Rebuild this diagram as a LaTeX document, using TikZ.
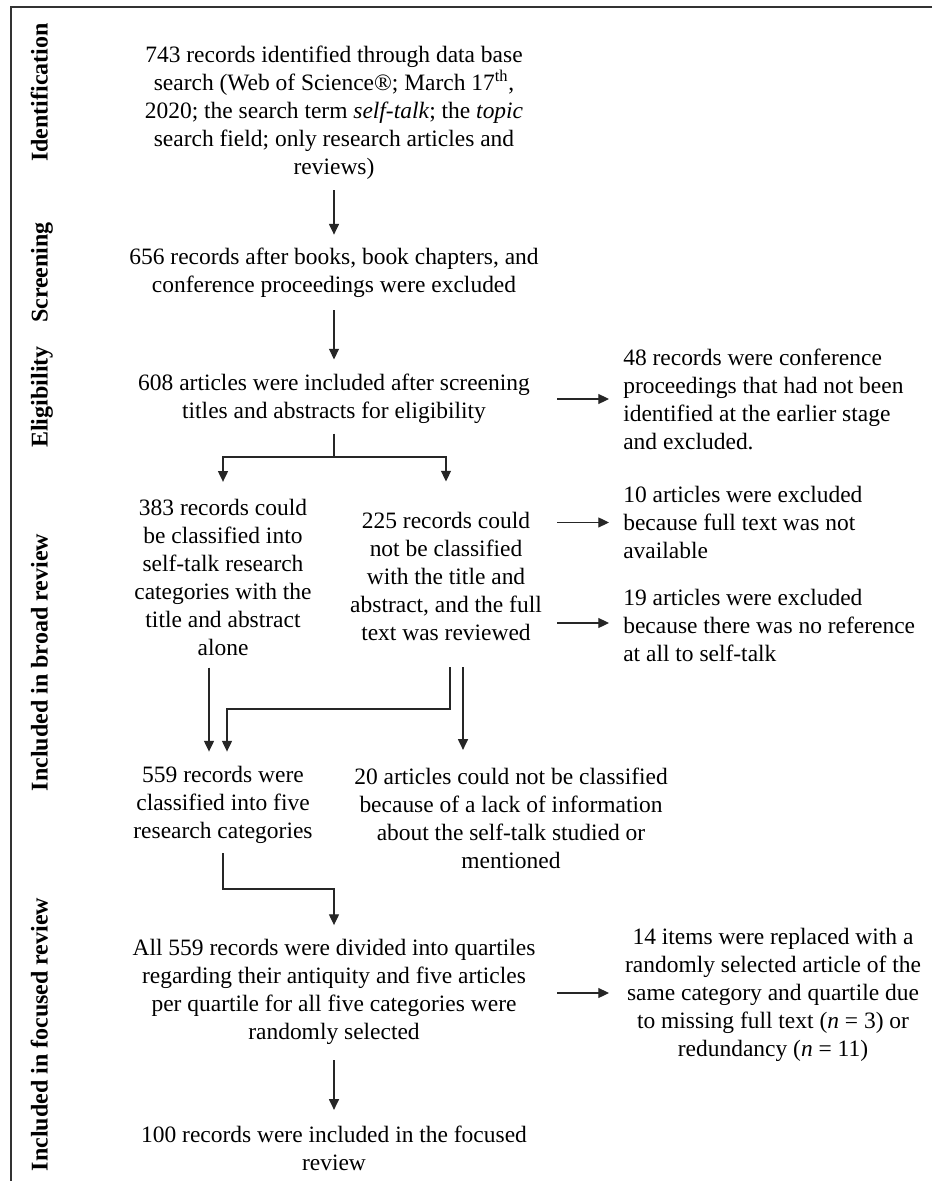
\documentclass[tikz,border=0pt]{standalone}
\usepackage{fontspec}
\setmainfont{Liberation Serif}
\usetikzlibrary{arrows.meta}
\begin{document}
\begin{tikzpicture}[x=0.75pt,y=-0.75pt,
  txt/.style={inner sep=0pt, align=center, font=\fontsize{17.6pt}{21pt}\selectfont},
  ltxt/.style={inner sep=0pt, align=left, anchor=west, font=\fontsize{17.6pt}{21pt}\selectfont},
  side/.style={inner sep=0pt, rotate=90, anchor=base, font=\fontsize{18pt}{21pt}\selectfont\bfseries},
  conn/.style={line width=0.8pt, draw=black!85},
  arr/.style={conn, -{Triangle[length=8pt,width=7.5pt]}},
  frame/.style={line width=1pt, draw=black!80}]
\useasboundingbox (0,0) rectangle (932,1181);
\fill[white] (0,0) rectangle (932,1181);
% frame
\coordinate (fTL) at (11,7);
\coordinate (fTR) at (932,7);
\coordinate (fBL) at (11,1181);
\draw[frame] (fTR) -- (fTL) -- (fBL);
% side labels
\node[side] (sIdent) at (47.5,92.5) {Identification};
\node[side] (sScreen) at (47.5,272.5) {Screening};
\node[side] (sElig) at (47.5,397) {Eligibility};
\node[side] (sBroad) at (47.5,662.5) {Included in broad review};
\node[side] (sFocus) at (47.5,1034.5) {Included in focused review};
% main nodes
\node[txt] (b1) at (334,112.5) {743 records identified through data base\\ search (Web of Science®; March 17\textsuperscript{th},\\ 2020; the search term \textit{self-talk}; the \textit{topic}\\ search field; only research articles and\\ reviews)};
\node[txt] (b2) at (334,273) {656 records after books, book chapters, and\\ conference proceedings were excluded};
\node[txt] (b3) at (334,398.5) {608 articles were included after screening\\ titles and abstracts for eligibility};
\node[ltxt] (r1) at (623,399) {48 records were conference\\ proceedings that had not been\\ identified at the earlier stage\\ and excluded.};
\node[txt] (b4) at (223,577) {383 records could\\ be classified into\\ self-talk research\\ categories with the\\ title and abstract\\ alone};
\node[txt] (b5) at (446,576) {225 records could\\ not be classified\\ with the title and\\ abstract, and the full\\ text was reviewed};
\node[ltxt] (r2) at (623,522.5) {10 articles were excluded\\ because full text was not\\ available};
\node[ltxt] (r3) at (623,625) {19 articles were excluded\\ because there was no reference\\ at all to self-talk};
\node[txt] (b6) at (223,804.5) {559 records were\\ classified into five\\ research categories};
\node[txt] (b7) at (511,818.5) {20 articles could not be classified\\ because of a lack of information\\ about the self-talk studied or\\ mentioned};
\node[txt] (b8) at (334,992) {All 559 records were divided into quartiles\\ regarding their antiquity and five articles\\ per quartile for all five categories were\\ randomly selected};
\node[txt] (r4) at (773,995) {14 items were replaced with a\\ randomly selected article of the\\ same category and quartile due\\ to missing full text (\textit{n} = 3) or\\ redundancy (\textit{n} = 11)};
\node[txt] (b9) at (334,1148.5) {100 records were included in the focused\\ review};
% helper coordinates
\coordinate (acol) at (557,0);
\coordinate (aend) at (609,0);
\coordinate (split) at (334,457);
\coordinate (elbowA) at (227,709);
\coordinate (elbowB) at (334,889);
% vertical connectors
\draw[arr, shorten <=8pt, shorten >=10pt] (b1.south) -- (b2.north);
\draw[arr, shorten <=9pt, shorten >=10.5pt] (b2.south) -- (b3.north);
\draw[conn, shorten <=7.5pt] (b3.south) -- (split);
\draw[arr, shorten >=12.5pt] (split) -| (b4.north);
\draw[arr, shorten >=22.5pt] (split) -| (b5.north);
\draw[arr, shorten <=9pt, shorten >=10.5pt] ([xshift=-10.5pt]b4.south) -- ([xshift=-10.5pt]b6.north);
\draw[arr, shorten <=20pt, shorten >=10.5pt] ([xshift=3pt]b5.south) |- (elbowA) -- (elbowA |- b6.north);
\draw[arr, shorten <=20pt, shorten >=13.5pt] ([xshift=12.75pt]b5.south) -- ([xshift=12.75pt]b5.south |- b7.north);
\draw[arr, shorten <=7.5pt, shorten >=10.5pt] (b6.south) |- (elbowB) -- (b8.north);
\draw[arr, shorten <=11.5pt, shorten >=12pt] (b8.south) -- (b9.north);
% horizontal connectors
\draw[arr] (acol |- r1.west) -- (aend |- r1.west);
\draw[arr] (acol |- b5.north) ++(0,11) -- ([yshift=-8.25pt]aend |- b5.north);
\draw[arr] (acol |- r3.west) ++(0,-2) -- ([yshift=1.5pt]aend |- r3.west);
\draw[arr] (acol |- b8.center) ++(0,1) -- ([yshift=-0.75pt]aend |- b8.center);
\end{tikzpicture}
\end{document}
